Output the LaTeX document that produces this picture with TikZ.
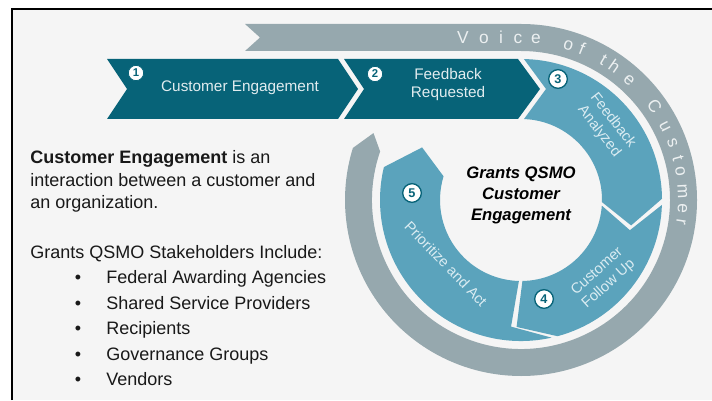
\documentclass[tikz,border=0pt]{standalone}
\usepackage{fontspec}
\setmainfont{Liberation Sans}
\definecolor{voicegray}{RGB}{150,168,174}
\definecolor{darkteal}{RGB}{7,99,120}
\definecolor{ringblue}{RGB}{91,163,188}
\definecolor{framebg}{RGB}{245,245,245}
\definecolor{ringtext}{RGB}{218,236,242}
\definecolor{voicetext}{RGB}{236,240,241}
\def\ringin{81}
\def\ringout{141}

\begin{document}
\begin{tikzpicture}[x=0.75pt,y=0.75pt]
        \tikzstyle{num}=[circle,fill=white,draw=darkteal,line width=0.6pt,inner sep=0pt,text=darkteal]
        \tikzstyle{small num}=[num,minimum size=11.5pt,font=\bfseries\fontsize{8.5}{8.5}\selectfont]
        \tikzstyle{big num}=[num,minimum size=14pt,line width=1pt,font=\bfseries\fontsize{9.5}{9.5}\selectfont]
        \tikzstyle{steplabel}=[align=center,text=white!88!darkteal,font=\fontsize{11.5}{13.5}\selectfont]
        \tikzstyle{ringlabel}=[align=center,text=ringtext,font=\fontsize{11}{13}\selectfont]
        \tikzstyle{voice}=[anchor=base,inner sep=0pt,text=voicetext,font=\fontsize{13}{13}\selectfont]
        \tikzstyle{body}=[anchor=base west,inner sep=0pt,text=black!90,font=\fontsize{13.5}{16}\selectfont]

        % Background and frame
        \useasboundingbox (0,0) rectangle (712,400);
        \fill[framebg] (12,0) rectangle (712,391);
        \draw[line width=1.6pt] (12,0) -- (12,391) -- (712,391);
        \coordinate (ctr) at (521,200);

        % Draw the voice of the customer band
        \fill[voicegray] (245,376) -- (521,376)
            arc[start angle=90,end angle=-197.2,radius=176]
            -- ([shift={(ctr)}]-204.4:162) -- ([shift={(ctr)}]-199:149)
            arc[start angle=-199,end angle=90,radius=149]
            -- (245,349) -- (260,362.5) -- cycle;

        % Draw the two chevrons
        \fill[darkteal] (107,341) -- (338,341) -- (358,311) -- (338,281) -- (107,281) -- (127,311) -- cycle;
        \fill[darkteal] (344,341) -- (518,341) -- (540,311) -- (518,281) -- (344,281) -- (364,311) -- cycle;

        % Draw the ring segments
        \begin{scope}[shift={(ctr)}]
            \fill[ringblue] (88.8:\ringout) arc[start angle=88.8,end angle=0.5,radius=\ringout]
                -- (-13:113) -- (-1.5:\ringin) arc[start angle=-1.5,end angle=87.9,radius=\ringin]
                -- (25,111) -- cycle;
            \fill[ringblue] (-2:\ringout) arc[start angle=-2,end angle=-75,radius=\ringout]
                -- (-92:127) -- (-89:\ringin) arc[start angle=-89,end angle=-4,radius=\ringin]
                -- (-15.5:113) -- cycle;
            \fill[ringblue] (-77.5:\ringout) arc[start angle=-77.5,end angle=-193.5,radius=\ringout]
                -- (-208:112) -- (-197:\ringin) arc[start angle=-197,end angle=-91.5,radius=\ringin]
                -- (-94.5:127) -- cycle;
        \end{scope}

        % Number the steps and label them
        \node[small num] (n1) at (136,327) {1};
        \node[steplabel] (s1) at (240,312) {Customer Engagement};
        \node[small num] (n2) at (375,326) {2};
        \node[steplabel] (s2) at (448,315) {Feedback\\Requested};
        \node[big num] (n3) at (558,321) {3};
        \node[ringlabel,rotate=-52] (s3) at (606,274) {Feedback\\Analyzed};
        \node[big num] (n4) at (544,101) {4};
        \node[ringlabel,rotate=42] (s4) at (603,122) {Customer\\Follow Up};
        \node[big num] (n5) at (412,207) {5};
        \node[ringlabel,rotate=-46] (s5) at (446,136) {Prioritize and Act};
        \node[align=center,font=\bfseries\itshape\fontsize{12.5}{15.75}\selectfont] (hub) at (521,205)
            {Grants QSMO\\Customer\\Engagement};

        % Spell the band text letter by letter
        \foreach \ch/\x [count=\i] in {V/463,o/484,i/501,c/518,e/536}
            \node[voice] (vs\i) at (\x,356) {\ch};
        \foreach \ch/\a [count=\i] in {o/73,f/68,t/59.5,h/55,e/48,C/35,u/27,s/20.5,t/15,o/10,m/3,e/-3,r/-8}
            \node[voice,rotate=\a-90] (vc\i) at ([shift={(ctr)}]\a:157) {\ch};

        % Left hand text
        \node[body] (p1) at (30,236) {\textbf{Customer Engagement} is an};
        \node[body] (p2) at (30,214) {interaction between a customer and};
        \node[body] (p3) at (30,192) {an organization.};
        \node[body] (hdr) at (30,142) {Grants QSMO Stakeholders Include:};
        \foreach \stake [count=\i] in {Federal Awarding Agencies,Shared Service Providers,Recipients,Governance Groups,Vendors}
        {
            \node[body,anchor=base] (dot\i) at (78,142-25.5*\i) {\textbullet};
            \node[body] (item\i) at (106,142-25.5*\i) {\stake};
        }
\end{tikzpicture}
\end{document}
